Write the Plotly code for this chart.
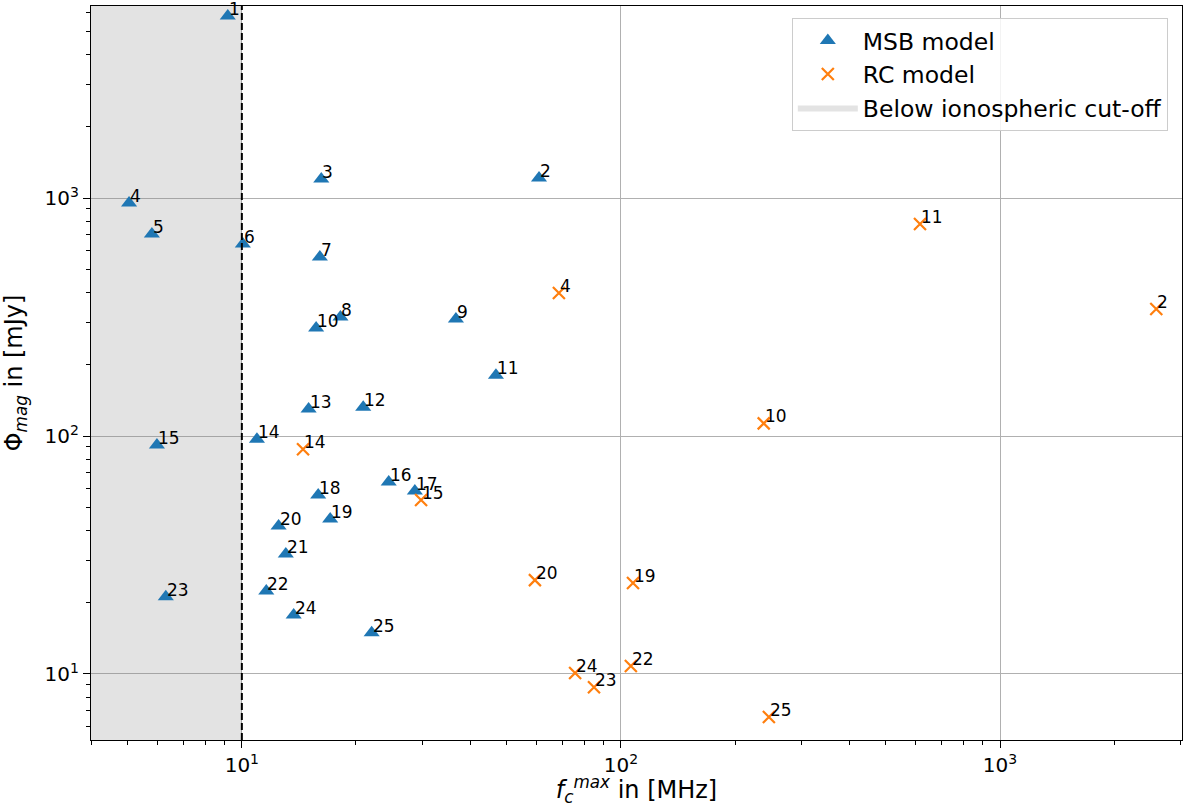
import numpy as np
import plotly.graph_objects as go

# ---- data ----
msb_labels = [str(i) for i in range(1, 26)]
msb_f = [9.18, 60.8, 16.2, 5.04, 5.79, 10.06, 16.06, 18.2, 36.7, 15.7,
         46.8, 20.9, 15.0, 10.96, 5.97, 24.4, 28.6, 15.9, 17.1, 12.5,
         13.06, 11.6, 6.3, 13.7, 22.0]
msb_phi = [5820, 1213, 1202, 953, 706, 641, 565, 316, 310, 284,
           180, 132, 130, 97, 91.6, 64.1, 58.7, 56.5, 44.8, 41.9,
           31.9, 22.3, 21.1, 17.7, 14.9]

rc_labels = ["2", "4", "10", "11", "14", "15", "19", "20", "22", "23", "24", "25"]
rc_f = [2583, 68.6, 238, 615, 14.5, 29.7, 107.6, 59.3, 106.2, 84.9, 75.7, 245.6]
rc_phi = [342, 399, 113, 778, 88, 53.8, 24.1, 24.8, 10.8, 8.8, 10.1, 6.6]

cutoff_mhz = 10.0
x_limits = [4.0, 3020.0]
y_limits = [5.28, 6410.0]

major_ticks = [10, 100, 1000]
major_text = ["10<sup>1</sup>", "10<sup>2</sup>", "10<sup>3</sup>"]

minor_ticks = [m * 10 ** k for k in range(0, 4) for m in range(2, 10)]

FONT = "DejaVu Sans"
BLUE = "#1f77b4"
ORANGE = "#ff7f0e"

fig = go.Figure()

# shaded region below ionospheric cut-off
fig.add_trace(go.Scatter(
    x=[x_limits[0], cutoff_mhz, cutoff_mhz, x_limits[0], x_limits[0]],
    y=[y_limits[0], y_limits[0], y_limits[1], y_limits[1], y_limits[0]],
    mode="lines", fill="toself", fillcolor="rgba(128,128,128,0.22)",
    line=dict(width=0, color="rgba(128,128,128,0.22)"),
    name="Below ionospheric cut-off", legendrank=3, hoverinfo="skip"))

fig.add_trace(go.Scatter(
    x=msb_f, y=msb_phi, mode="markers", name="MSB model", legendrank=1,
    marker=dict(symbol="triangle-up", size=14, color=BLUE)))

fig.add_trace(go.Scatter(
    x=rc_f, y=rc_phi, mode="markers", name="RC model", legendrank=2,
    marker=dict(symbol="x-thin", size=12, color=ORANGE,
                line=dict(width=2.2, color=ORANGE))))

# point labels: text starts at the data point, baseline just above it
# (annotation positions on log axes are given in log10 units)
for labels, fs, phis in ((msb_labels, msb_f, msb_phi), (rc_labels, rc_f, rc_phi)):
    for lbl, f, p in zip(labels, fs, phis):
        fig.add_annotation(x=np.log10(f), y=np.log10(p), xref="x", yref="y",
                           text=lbl, showarrow=False, xanchor="left", yanchor="bottom",
                           yshift=-4, xshift=0, borderpad=0,
                           font=dict(family=FONT, size=17, color="black"))

fig.add_shape(type="line", xref="x", yref="y domain", x0=cutoff_mhz, x1=cutoff_mhz,
              y0=0, y1=1, line=dict(color="black", width=2, dash="7px,3px"))

axis_common = dict(
    type="log", showline=True, linecolor="black", linewidth=1.3, mirror=True,
    ticks="outside", ticklen=7, tickwidth=1.2, tickcolor="black",
    showgrid=True, gridcolor="#b0b0b0", gridwidth=1.2, zeroline=False,
    tickfont=dict(family=FONT, size=20, color="black"),
    tickvals=major_ticks, ticktext=major_text, automargin=False,
    minor=dict(tickvals=minor_ticks, ticks="outside", ticklen=4, tickwidth=1,
               tickcolor="black", showgrid=False),
)

fig.update_xaxes(**axis_common, range=[np.log10(x_limits[0]), np.log10(x_limits[1])],
                 title=dict(text="<i>f</i><sub><i>c</i></sub><sup><i>max</i></sup> in [MHz]",
                            font=dict(family=FONT, size=24, color="black")))
fig.update_yaxes(**axis_common, range=[np.log10(y_limits[0]), np.log10(y_limits[1])],
                 title=dict(text="Φ<sub><i>mag</i></sub> in [mJy]",
                            font=dict(family=FONT, size=24, color="black")))

fig.update_layout(
    width=1190, height=807,
    margin=dict(l=91, r=8, t=6, b=67),
    plot_bgcolor="white", paper_bgcolor="white",
    font=dict(family=FONT, color="black"),
    legend=dict(x=0.987, y=0.984, xanchor="right", yanchor="top",
                bgcolor="rgba(255,255,255,0.85)", bordercolor="#cccccc", borderwidth=1,
                font=dict(family=FONT, size=23.5, color="black"),
                traceorder="normal", itemwidth=60),
)

fig.write_html("out.html", config={"displayModeBar": False},
               post_script="document.body.style.margin='0';document.body.style.overflow='hidden';")
